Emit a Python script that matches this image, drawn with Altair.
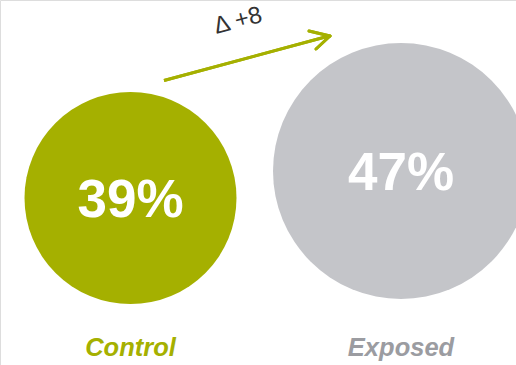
import altair as alt
import pandas as pd

groups = ["Control", "Exposed"]
values = [39, 47]
pct_labels = ["39%", "47%"]
colors = ["#a5b000", "#c4c5c9"]
label_colors = ["#a5b000", "#9b9ca1"]
delta_text = "\u0394 +8"

df = pd.DataFrame({
    "group": groups,
    "value": values,
    "pct": pct_labels,
})

W, H = 516, 365

x_enc = alt.X("group:N", scale=alt.Scale(type="point", domain=groups, range=[130.5, 401], padding=0), axis=None)
y_enc = alt.Y("value:Q", scale=alt.Scale(domain=[39, 47], range=[198, 171]), axis=None)

base = alt.Chart(df)

circles = base.mark_point(filled=True, shape="circle", opacity=1, strokeWidth=0).encode(
    x=x_enc,
    y=y_enc,
    size=alt.Size("value:Q", scale=alt.Scale(domain=[39, 47], range=[44944, 65536]), legend=None),
    color=alt.Color("group:N", scale=alt.Scale(domain=groups, range=colors), legend=None),
)

pct = base.mark_text(font="Liberation Sans", fontWeight="bold", fontSize=53,
                     color="white", baseline="middle", dy=3).encode(
    x=x_enc, y=y_enc, text="pct:N"
)

names = base.mark_text(font="Liberation Sans", fontWeight="bold", fontStyle="italic",
                       fontSize=25.5, baseline="alphabetic").encode(
    x=x_enc,
    y=alt.value(356),
    text="group:N",
    color=alt.Color("group:N", scale=alt.Scale(domain=groups, range=label_colors), legend=None),
)

arrow_color = "#a5b000"
shaft = base.mark_rule(color=arrow_color, strokeWidth=3).encode(
    x=alt.value(164), y=alt.value(80.5), x2=alt.value(329), y2=alt.value(36)
)
head1 = base.mark_rule(color=arrow_color, strokeWidth=3, strokeCap="round").encode(
    x=alt.value(309), y=alt.value(31), x2=alt.value(330), y2=alt.value(36)
)
head2 = base.mark_rule(color=arrow_color, strokeWidth=3, strokeCap="round").encode(
    x=alt.value(316), y=alt.value(49), x2=alt.value(330), y2=alt.value(36)
)

delta = alt.Chart(pd.DataFrame({"t": [delta_text]})).mark_text(
    font="Liberation Sans", fontSize=24, color="#333333", angle=345,
    align="center", baseline="middle"
).encode(x=alt.value(238), y=alt.value(21), text="t:N")

chart = alt.layer(circles, pct, names, shaft, head1, head2, delta).resolve_scale(
    color="independent"
).properties(
    width=W, height=H, padding=0, autosize=alt.AutoSizeParams(type="none")
).configure_view(stroke="transparent", strokeWidth=0).configure(background="white")

chart.save("out.html", embed_options={"renderer": "svg", "actions": False})
